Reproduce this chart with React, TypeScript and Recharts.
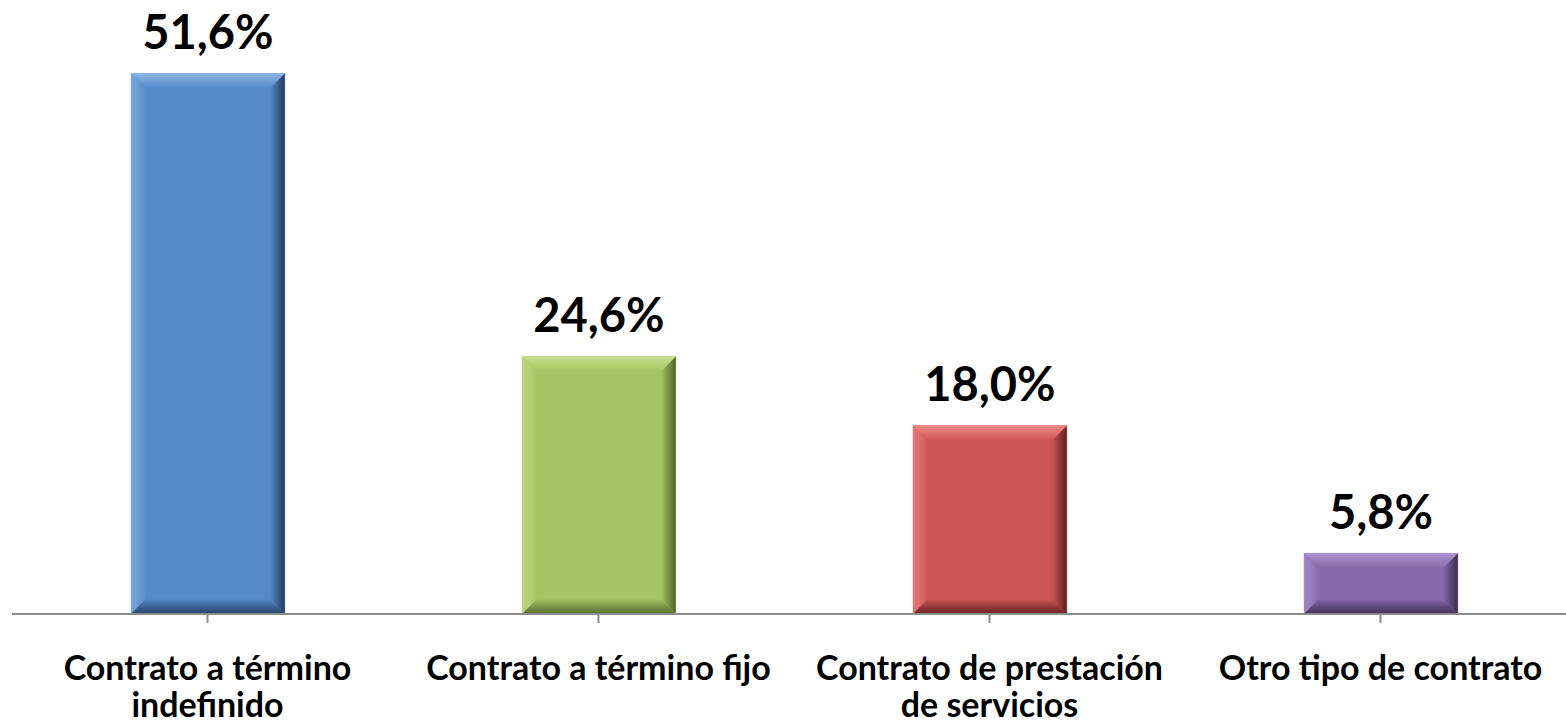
import { Bar, BarChart, Cell, LabelList, XAxis, YAxis } from "recharts";

const categories = [
  "Contrato a término\nindefinido",
  "Contrato a término fijo",
  "Contrato de prestación\nde servicios",
  "Otro tipo de contrato",
];
const values = [51.6, 24.6, 18.0, 5.8];
const colors = ["#5589CA", "#A5C463", "#CD5654", "#8669AA"];
const lights = ["#8DB5E6", "#C8E08E", "#EE8A88", "#AE94D0"];
const darks = ["#22395A", "#4F612B", "#5A1E1D", "#3A2A4E"];

const data = categories.map((name, i) => ({ name, value: values[i], idx: i }));

const FONT = "Lato, 'Open Sans', sans-serif";

const BevelBar = (props) => {
  const { x, y, width, height, idx } = props;
  if (height <= 0) return null;
  const b = Math.min(15, height / 3);
  const c = colors[idx];
  const r = x + width;
  const bt = y + height;
  const id = `bv${idx}`;
  return (
    <g>
      <defs>
        <linearGradient id={`${id}t`} x1="0" y1="0" x2="0" y2="1">
          <stop offset="0" stopColor={lights[idx]} />
          <stop offset="1" stopColor={c} />
        </linearGradient>
        <linearGradient id={`${id}r`} x1="0" y1="0" x2="1" y2="0">
          <stop offset="0" stopColor={c} />
          <stop offset="1" stopColor={darks[idx]} />
        </linearGradient>
        <linearGradient id={`${id}b`} x1="0" y1="0" x2="0" y2="1">
          <stop offset="0" stopColor={c} />
          <stop offset="1" stopColor={darks[idx]} stopOpacity={0.85} />
        </linearGradient>
        <linearGradient id={`${id}l`} x1="0" y1="0" x2="1" y2="0">
          <stop offset="0" stopColor={lights[idx]} stopOpacity={0.6} />
          <stop offset="1" stopColor={c} />
        </linearGradient>
      </defs>
      <rect x={x} y={y} width={width} height={height} fill={c} />
      <polygon points={`${x},${y} ${x + b},${y + b} ${x + b},${bt - b} ${x},${bt}`} fill={`url(#${id}l)`} />
      <polygon points={`${r},${y} ${r},${bt} ${r - b},${bt - b} ${r - b},${y + b}`} fill={`url(#${id}r)`} />
      <polygon points={`${x},${bt} ${r},${bt} ${r - b},${bt - b} ${x + b},${bt - b}`} fill={`url(#${id}b)`} />
      <polygon points={`${x},${y} ${r},${y} ${r - b},${y + b} ${x + b},${y + b}`} fill={`url(#${id}t)`} />
      <rect x={x} y={y} width={width} height={height} fill="none" stroke={lights[idx]} strokeWidth={1} opacity={0.5} />
    </g>
  );
};

const CatTick = ({ x, y, payload }) => {
  const lines = String(payload.value).split("\n");
  return (
    <text x={x} y={y + 55} textAnchor="middle" fontFamily={FONT} fontWeight={700} fontSize={34} fill="#000">
      {lines.map((l, i) => (
        <tspan key={i} x={x} dy={i === 0 ? 0 : 37}>
          {l}
        </tspan>
      ))}
    </text>
  );
};

const fmt = (v) => v.toFixed(1).replace(".", ",") + "%";

export default function App() {
  return (
    <div style={{ position: "absolute", left: 0, top: 0, width: 1566, height: 723, overflow: "hidden", background: "#fff" }}>
      <BarChart width={1580} height={723} data={data} margin={{ top: 0, right: 4, left: 12, bottom: 0 }}>
        <YAxis hide domain={[0, 58.6]} />
        <XAxis
          dataKey="name"
          height={109}
          axisLine={{ stroke: "#8C8C8C", strokeWidth: 2 }}
          tickLine={{ stroke: "#8C8C8C", strokeWidth: 2 }}
          tickSize={9}
          interval={0}
          tick={<CatTick />}
        />
        <Bar dataKey="value" barSize={154} isAnimationActive={false} shape={<BevelBar />}>
          {data.map((d, i) => (
            <Cell key={i} fill={colors[i]} />
          ))}
          <LabelList
            dataKey="value"
            position="top"
            offset={24}
            formatter={fmt}
            style={{ fontFamily: FONT, fontWeight: 700, fontSize: 47, fill: "#000" }}
          />
        </Bar>
      </BarChart>
    </div>
  );
}
